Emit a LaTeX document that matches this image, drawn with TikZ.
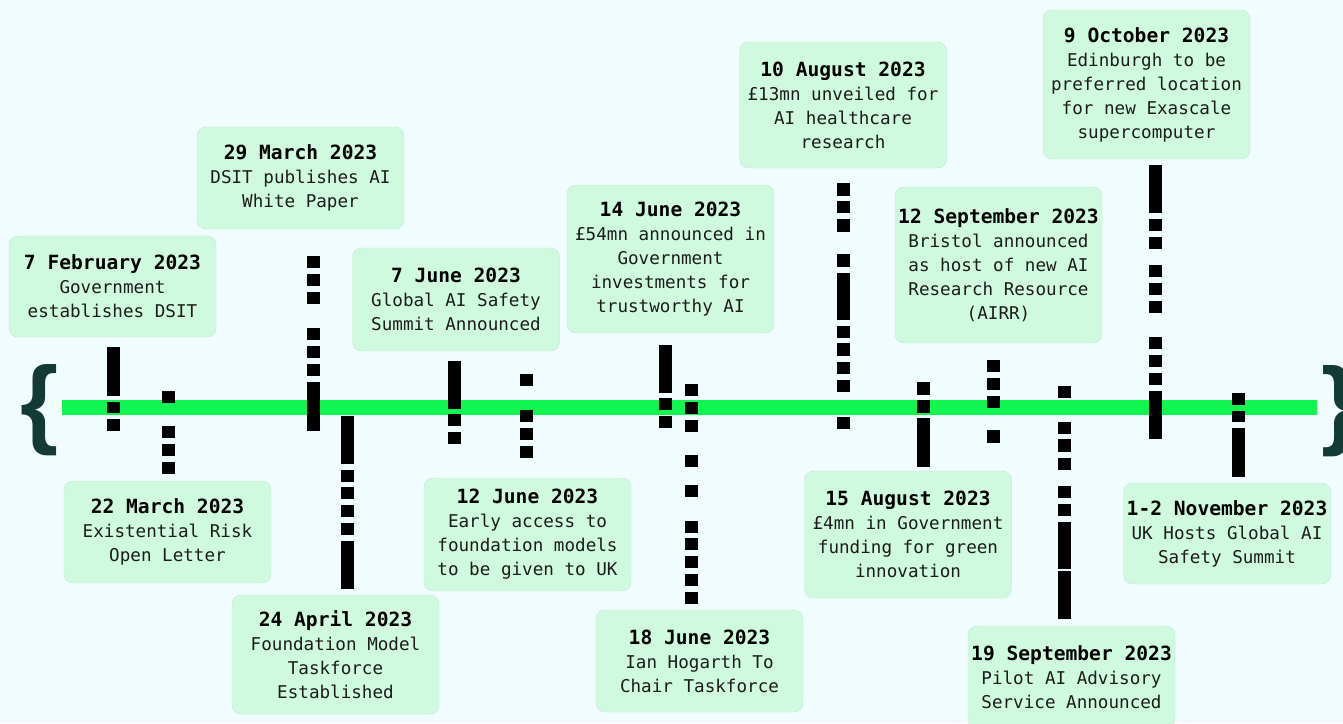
\documentclass[tikz,border=0pt]{standalone}
\usepackage{fontspec}
\setmainfont[BoldFont={DejaVu Sans Mono Bold}]{DejaVu Sans Mono}
\newfontfamily\bracefont{Liberation Sans}

\definecolor{bg}{RGB}{240,252,254}
\definecolor{boxfill}{RGB}{208,250,223}
\definecolor{boxline}{RGB}{196,228,210}
\definecolor{lime}{RGB}{16,245,80}
\definecolor{braceteal}{RGB}{20,58,52}
\definecolor{ink}{RGB}{28,28,28}

\newcommand{\when}[1]{{\fontsize{19.6}{24}\selectfont\bfseries\color{black}#1}}

\begin{document}
\begin{tikzpicture}[x=1pt, y=-1pt]
        \tikzstyle{event} = [rectangle, rounded corners=9pt, draw=boxline, fill=boxfill, minimum width=207pt, text width=207pt, inner xsep=0pt, align=flush center, text=ink, font=\fontsize{17.6}{24}\selectfont]
        \tikzstyle{morse} = [line width=13pt, draw=black]
        \tikzstyle{timeline} = [line width=15pt, draw=lime]
        \tikzstyle{curly} = [inner sep=0pt, text=braceteal, font=\bracefont\bfseries\fontsize{98}{98}\selectfont]

        % Background
        \fill[bg] (0,0) rectangle (1343,723);
        \useasboundingbox (0,0) rectangle (1343,723);

        % Events above the line
        \node (feb7) [event, minimum height=101pt] at (112.5,286.5) {\when{7 February 2023}\\Government\\establishes DSIT};
        \node (mar29) [event, minimum height=102pt] at (300.5,178) {\when{29 March 2023}\\DSIT publishes AI\\White Paper};
        \node (jun7) [event, minimum height=103pt] at (456,299.5) {\when{7 June 2023}\\Global AI Safety\\Summit Announced};
        \node (jun14) [event, minimum height=148pt] at (670.5,259) {\when{14 June 2023}\\£54mn announced in\\Government\\investments for\\trustworthy AI};
        \node (aug10) [event, minimum height=126pt] at (843,105) {\when{10 August 2023}\\£13mn unveiled for\\AI healthcare\\research};
        \node (sep12) [event, minimum height=156pt] at (998.5,265) {\when{12 September 2023}\\Bristol announced\\as host of new AI\\Research Resource\\(AIRR)};
        \node (oct9) [event, minimum height=149pt] at (1146.5,84.5) {\when{9 October 2023}\\Edinburgh to be\\preferred location\\for new Exascale\\supercomputer};

        % Events below the line
        \node (mar22) [event, minimum height=102pt] at (167.5,532) {\when{22 March 2023}\\Existential Risk\\Open Letter};
        \node (apr24) [event, minimum height=119pt] at (335.5,654.5) {\when{24 April 2023}\\Foundation Model\\Taskforce\\Established};
        \node (jun12) [event, minimum height=113pt] at (527.5,534.5) {\when{12 June 2023}\\Early access to\\foundation models\\to be given to UK};
        \node (jun18) [event, minimum height=102pt] at (699.5,661) {\when{18 June 2023}\\Ian Hogarth To\\Chair Taskforce};
        \node (aug15) [event, minimum height=127pt] at (908,534.5) {\when{15 August 2023}\\£4mn in Government\\funding for green\\innovation};
        \node (sep19) [event, minimum height=102pt] at (1071.5,677) {\when{19 September 2023}\\Pilot AI Advisory\\Service Announced};
        \node (nov1) [event, minimum height=101pt] at (1227,533.5) {\when{1-2 November 2023}\\UK Hosts Global AI\\Safety Summit};

        % Braces
        \node (open) [curly] at (40,410) {\{};
        \node (close) [curly] at (1341,411) {\}};

        % Timeline
        \coordinate (tl-start) at (62,407.5);
        \coordinate (tl-end) at (1317,407.5);
        \draw [timeline] (tl-start) -- (tl-end);

        % Connector ends
        \coordinate (feb7-a) at (113,347);   \coordinate (feb7-b) at (113,431);
        \coordinate (mar22-a) at (168,391);  \coordinate (mar22-b) at (168,474);
        \coordinate (mar29-a) at (313,256);  \coordinate (mar29-b) at (313,431);
        \coordinate (apr24-a) at (347,416);  \coordinate (apr24-b) at (347,589);
        \coordinate (jun7-a) at (454,361);   \coordinate (jun7-b) at (454,444);
        \coordinate (jun12-a) at (526,374);  \coordinate (jun12-b) at (526,458);
        \coordinate (jun14-a) at (665,345);  \coordinate (jun14-b) at (665,428);
        \coordinate (jun18-a) at (691,384);  \coordinate (jun18-b) at (691,604);
        \coordinate (aug10-a) at (843,183);  \coordinate (aug10-b) at (843,429);
        \coordinate (aug15-a) at (923,382);  \coordinate (aug15-b) at (923,467);
        \coordinate (sep12-a) at (993,360);  \coordinate (sep12-b) at (993,443);
        \coordinate (sep19-a) at (1064,386); \coordinate (sep19-b) at (1064,619);
        \coordinate (oct9-a) at (1155,165);  \coordinate (oct9-b) at (1155,439);
        \coordinate (nov1-a) at (1238,393);  \coordinate (nov1-b) at (1238,477);

        % Connectors
        \draw [morse, dash pattern=on 49pt off 6pt on 11pt off 6pt on 12pt] (feb7-a) -- (feb7-b);
        \draw [morse, dash pattern=on 12pt off 23pt on 12pt off 6pt on 12pt off 6pt on 12pt] (mar22-a) -- (mar22-b);
        \draw [morse, dash pattern=on 12pt off 6pt on 12pt off 6pt on 12pt off 24pt on 12pt off 6pt on 12pt off 6pt on 12pt off 6pt on 49pt] (mar29-a) -- (mar29-b);
        \draw [morse, dash pattern=on 48pt off 6pt on 12pt off 5pt on 12pt off 6pt on 12pt off 6pt on 12pt off 6pt on 48pt] (apr24-a) -- (apr24-b);
        \draw [morse, dash pattern=on 48pt off 5pt on 12pt off 6pt on 12pt] (jun7-a) -- (jun7-b);
        \draw [morse, dash pattern=on 12pt off 24pt on 12pt off 6pt on 12pt off 6pt on 12pt] (jun12-a) -- (jun12-b);
        \draw [morse, dash pattern=on 48pt off 5pt on 12pt off 6pt on 12pt] (jun14-a) -- (jun14-b);
        \draw [morse, dash pattern=on 12pt off 6pt on 12pt off 6pt on 12pt off 23pt on 12pt off 18pt on 12pt off 24pt on 12pt off 5pt on 12pt off 6pt on 12pt off 6pt on 12pt off 6pt on 12pt] (jun18-a) -- (jun18-b);
        \draw [morse, dash pattern=on 13pt off 5pt on 12pt off 6pt on 13pt off 22pt on 13pt off 6pt on 47pt off 6pt on 12pt off 5pt on 13pt off 6pt on 12pt off 6pt on 12pt off 25pt on 12pt] (aug10-a) -- (aug10-b);
        \draw [morse, dash pattern=on 13pt off 5pt on 13pt off 5pt on 49pt] (aug15-a) -- (aug15-b);
        \draw [morse, dash pattern=on 12pt off 6pt on 12pt off 6pt on 12pt off 22pt on 13pt] (sep12-a) -- (sep12-b);
        \draw [morse, dash pattern=on 12pt off 24pt on 12pt off 5pt on 13pt off 6pt on 12pt off 16pt on 12pt off 6pt on 12pt off 6pt on 47pt off 2pt on 48pt] (sep19-a) -- (sep19-b);
        \draw [morse, dash pattern=on 48pt off 6pt on 12pt off 6pt on 12pt off 16pt on 12pt off 6pt on 12pt off 6pt on 12pt off 24pt on 12pt off 6pt on 12pt off 6pt on 12pt off 6pt on 48pt] (oct9-a) -- (oct9-b);
        \draw [morse, dash pattern=on 12pt off 6pt on 11pt off 6pt on 49pt] (nov1-a) -- (nov1-b);

\end{tikzpicture}
\end{document}
